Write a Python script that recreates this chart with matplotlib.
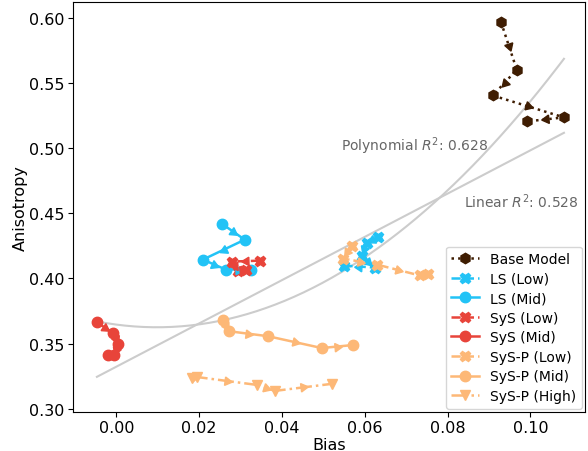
import numpy as np
import matplotlib
matplotlib.use("Agg")
import matplotlib.pyplot as plt

# ---- data ----
base_x = [0.0929, 0.0967, 0.0909, 0.1081, 0.0992]
base_y = [0.5969, 0.5603, 0.5405, 0.5237, 0.5206]

ls_low_x = [0.0632, 0.0605, 0.0593, 0.0624, 0.0550]
ls_low_y = [0.4321, 0.4275, 0.4176, 0.4084, 0.4099]

ls_mid_x = [0.0255, 0.0310, 0.0209, 0.0264, 0.0325]
ls_mid_y = [0.4420, 0.4298, 0.4145, 0.4069, 0.4069]

sys_low_x = [0.0347, 0.0279, 0.0293, 0.0313]
sys_low_y = [0.4137, 0.4130, 0.4061, 0.4069]

sys_mid_x = [-0.0047, -0.0008, 0.0004, -0.0006, -0.0021]
sys_mid_y = [0.3664, 0.3580, 0.3496, 0.3412, 0.3412]

sysp_low_x = [0.0569, 0.0547, 0.0629, 0.0733, 0.0752]
sysp_low_y = [0.4252, 0.4153, 0.4107, 0.4023, 0.4038]

sysp_mid_x = [0.0257, 0.0272, 0.0366, 0.0496, 0.0571]
sysp_mid_y = [0.3679, 0.3595, 0.3557, 0.3466, 0.3489]

sysp_high_x = [0.0182, 0.0194, 0.0339, 0.0383, 0.0520]
sysp_high_y = [0.3237, 0.3244, 0.3183, 0.3137, 0.3191]

poly_coef = [21.33, -0.418, 0.3646]
lin_coef = [1.661, 0.3323]
poly_r2 = 0.628
lin_r2 = 0.528

c_base = "#3f1d02"
c_ls = "#22c3f6"
c_sys = "#e8443a"
c_sysp = "#fdb877"

series = [
    ("Base Model", base_x, base_y, c_base, ":", "h"),
    ("LS (Low)", ls_low_x, ls_low_y, c_ls, "--", "X"),
    ("LS (Mid)", ls_mid_x, ls_mid_y, c_ls, "-", "o"),
    ("SyS (Low)", sys_low_x, sys_low_y, c_sys, "--", "X"),
    ("SyS (Mid)", sys_mid_x, sys_mid_y, c_sys, "-", "o"),
    ("SyS-P (Low)", sysp_low_x, sysp_low_y, c_sysp, "--", "X"),
    ("SyS-P (Mid)", sysp_mid_x, sysp_mid_y, c_sysp, "-", "o"),
    ("SyS-P (High)", sysp_high_x, sysp_high_y, c_sysp, "-.", "v"),
]

fig = plt.figure(figsize=(5.88, 4.52), dpi=100)
ax = fig.add_axes([0.124, 0.0863, 0.8717, 0.9071])
ax.set_xlim(-0.0105, 0.1133)
ax.set_ylim(0.2975, 0.6123)

# fit curves
all_x = np.concatenate([np.asarray(s[1]) for s in series])
xs = np.linspace(all_x.min(), all_x.max(), 200)
ax.plot(xs, np.polyval(poly_coef, xs), color="#cccccc", lw=1.5, zorder=1)
ax.plot(xs, np.polyval(lin_coef, xs), color="#cccccc", lw=1.5, zorder=1)
ax.text(0.0543, 0.502, f"Polynomial $R^2$: {poly_r2:.3f}", color="#666666",
        fontsize=10, va="center", ha="left")
ax.text(0.0839, 0.4595, f"Linear $R^2$: {lin_r2:.3f}", color="#666666",
        fontsize=10, va="center", ha="left")

for label, x, y, c, ls, m in series:
    ax.plot(x, y, color=c, ls=ls, marker=m, markersize=7.5, lw=1.8,
            label=label, zorder=3)

fig.canvas.draw()
# direction arrows at segment midpoints
for label, x, y, c, ls, m in series:
    pts = ax.transData.transform(np.column_stack([x, y]))
    for i in range(len(x) - 1):
        d = pts[i + 1] - pts[i]
        ang = np.degrees(np.arctan2(d[1], d[0]))
        mx = (x[i] + x[i + 1]) / 2
        my = (y[i] + y[i + 1]) / 2
        ax.plot([mx], [my], marker=(3, 0, ang - 90), color=c, markersize=7,
                ls="none", zorder=4)

ax.set_xlabel("Bias", fontsize=11.5, labelpad=1)
ax.set_ylabel("Anisotropy", fontsize=11.5, labelpad=1)
ax.tick_params(labelsize=11.5, pad=2.5)
ax.set_xticks([0.0, 0.02, 0.04, 0.06, 0.08, 0.10])
ax.set_yticks([0.30, 0.35, 0.40, 0.45, 0.50, 0.55, 0.60])
ax.legend(loc="lower right", fontsize=10, framealpha=0.8, labelspacing=0.4,
          bbox_to_anchor=(1.0, 0.0), borderaxespad=0.25)

fig.savefig("out.png", dpi=100)
